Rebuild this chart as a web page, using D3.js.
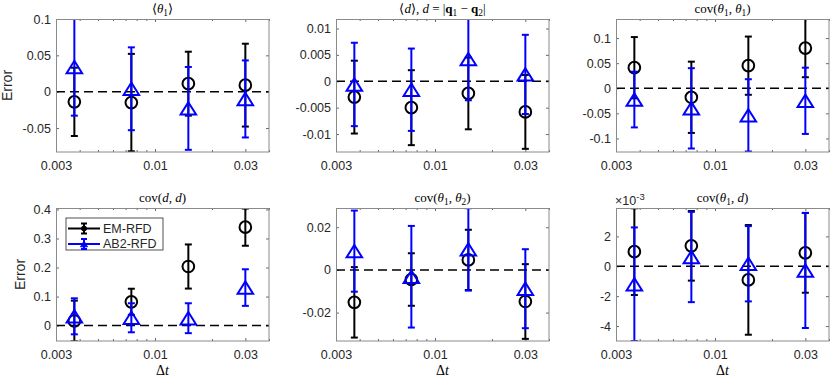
<!DOCTYPE html>
<html>
<head>
<meta charset="utf-8">
<script src="https://cdn.jsdelivr.net/npm/d3@7/dist/d3.min.js"></script>
<style>
  body { margin: 0; background: #fff; }
  svg { display: block; }
</style>
</head>
<body>
<svg></svg>
<script>
// time steps (shared x values) and x ticks
const dt = [0.00375, 0.0075, 0.015, 0.03]
const xTicks = [0.003, 0.01, 0.03]
const xMinor = [0.004, 0.005, 0.006, 0.007, 0.008, 0.009, 0.02, 0.04]

// <theta_1>
const thetaEM = [-0.014, -0.015, 0.011, 0.009]
const thetaEMErr = [0.047, 0.067, 0.044, 0.057]
const thetaAB2 = [0.034, 0.004, -0.023, -0.01]
const thetaAB2Err = [0.067, 0.057, 0.057, 0.053]
const thetaTicks = [-0.05, 0, 0.05, 0.1]

// <d>, d = |q1 - q2|
const dEM = [-0.003, -0.005, -0.0023, -0.0058]
const dEMErr = [0.0069, 0.0071, 0.0068, 0.007]
const dAB2 = [-0.0006, -0.0016, 0.0042, 0.0013]
const dAB2Err = [0.0079, 0.0078, 0.0078, 0.0075]
const dTicks = [-0.01, -0.005, 0, 0.005, 0.01]

// cov(theta1, theta1)
const c11EM = [0.041, -0.018, 0.045, 0.08]
const c11EMErr = [0.061, 0.071, 0.058, 0.058]
const c11AB2 = [-0.0225, -0.04, -0.054, -0.025]
const c11AB2Err = [0.0555, 0.08, 0.072, 0.066]
const c11Ticks = [-0.1, -0.05, 0, 0.05, 0.1]

// cov(d, d)
const cddEM = [0.016, 0.082, 0.2035, 0.339]
const cddEMErr = [0.07, 0.045, 0.076, 0.064]
const cddAB2 = [0.032, 0.027, 0.0255, 0.131]
const cddAB2Err = [0.062, 0.05, 0.0515, 0.063]
const cddTicks = [0, 0.1, 0.2, 0.3, 0.4]

// cov(theta1, theta2)
const c12EM = [-0.0152, -0.0045, 0.0047, -0.0148]
const c12EMErr = [0.0165, 0.0123, 0.0141, 0.0175]
const c12AB2 = [0.0088, -0.0032, 0.0096, -0.0088]
const c12AB2Err = [0.019, 0.0238, 0.0193, 0.0185]
const c12Ticks = [-0.02, 0, 0.02]

// cov(theta1, d)
const c1dEM = [0.98e-3, 1.37e-3, -0.91e-3, 0.9e-3]
const c1dEMErr = [2.9e-3, 2.33e-3, 3.67e-3, 2.67e-3]
const c1dAB2 = [-1.2e-3, 0.62e-3, 0.17e-3, -0.28e-3]
const c1dAB2Err = [3.8e-3, 3.02e-3, 2.52e-3, 3.85e-3]
const c1dTicks = [-4e-3, -2e-3, 0, 2e-3]

const seriesNames = ['EM-RFD', 'AB2-RFD']

// canvas and subplot geometry
const width = 830
const height = 377
const cols = [56, 336, 616]
const rows = [19, 208]
const pw = 213
const ph = 133

const black = '#000000'
const blue = '#0000ff'
const textColor = '#262626'
const sans = 'Liberation Sans, Arial, sans-serif'
const serif = 'Liberation Serif, Times New Roman, serif'
const tickFont = 12.5

// title pieces: [text, style]  i = italic, b = bold, sub = subscript
const panels = [
  { col: 0, row: 0, em: thetaEM, emErr: thetaEMErr, ab: thetaAB2, abErr: thetaAB2Err, ticks: thetaTicks, domain: [-0.083, 0.1], ylabel: 12,
    title: [['⟨', ''], ['θ', 'i'], ['1', 'sub'], ['⟩', '']] },
  { col: 1, row: 0, em: dEM, emErr: dEMErr, ab: dAB2, abErr: dAB2Err, ticks: dTicks, domain: [-0.0134, 0.0118],
    title: [['⟨', ''], ['d', 'i'], ['⟩, ', ''], ['d', 'i'], [' = |', ''], ['q', 'b'], ['1', 'sub'], [' − ', ''], ['q', 'b'], ['2', 'sub'], ['|', '']] },
  { col: 2, row: 0, em: c11EM, emErr: c11EMErr, ab: c11AB2, abErr: c11AB2Err, ticks: c11Ticks, domain: [-0.127, 0.138],
    title: [['cov(', ''], ['θ', 'i'], ['1', 'sub'], [', ', ''], ['θ', 'i'], ['1', 'sub'], [')', '']] },
  { col: 0, row: 1, em: cddEM, emErr: cddEMErr, ab: cddAB2, abErr: cddAB2Err, ticks: cddTicks, domain: [-0.053, 0.405], ylabel: 25, legend: true,
    title: [['cov(', ''], ['d', 'i'], [', ', ''], ['d', 'i'], [')', '']] },
  { col: 1, row: 1, em: c12EM, emErr: c12EMErr, ab: c12AB2, abErr: c12AB2Err, ticks: c12Ticks, domain: [-0.0333, 0.029],
    title: [['cov(', ''], ['θ', 'i'], ['1', 'sub'], [', ', ''], ['θ', 'i'], ['2', 'sub'], [')', '']] },
  { col: 2, row: 1, em: c1dEM, emErr: c1dEMErr, ab: c1dAB2, abErr: c1dAB2Err, ticks: c1dTicks, domain: [-5e-3, 3.9e-3], exp: -3,
    title: [['cov(', ''], ['θ', 'i'], ['1', 'sub'], [', ', ''], ['d', 'i'], [')', '']] }
]

const svg = d3.select('svg')
  .attr('width', width)
  .attr('height', height)

function fmt (v, exp) {
  if (exp) v = v / Math.pow(10, exp)
  return String(+v.toFixed(6))
}

function writeRich (sel, pieces, size) {
  let shifted = false
  pieces.forEach(([t, st]) => {
    const ts = sel.append('tspan').text(t)
    if (st === 'i') ts.attr('font-style', 'italic')
    if (st === 'b') ts.attr('font-weight', 'bold')
    if (st === 'sub') {
      ts.attr('font-size', size * 0.72).attr('dy', 3)
      shifted = true
    } else if (shifted) {
      ts.attr('dy', -3)
      shifted = false
    }
  })
}

function triangle (s) {
  const w = s
  const h = s * 0.8
  return 'M0,' + (-h / 2) + 'L' + (w / 2) + ',' + (h / 2) + 'L' + (-w / 2) + ',' + (h / 2) + 'Z'
}

function drawSeries (g, xScale, yScale, vals, errs, color, marker) {
  const cap = 3.5
  const s = g.append('g')
  vals.forEach((v, i) => {
    const x = xScale(dt[i])
    const y0 = yScale(v - errs[i])
    const y1 = yScale(v + errs[i])
    s.append('line').attr('x1', x).attr('x2', x).attr('y1', y0).attr('y2', y1)
      .attr('stroke', color).attr('stroke-width', 2)
    ;[y0, y1].forEach(yy => {
      s.append('line').attr('x1', x - cap).attr('x2', x + cap).attr('y1', yy).attr('y2', yy)
        .attr('stroke', color).attr('stroke-width', 2)
    })
  })
  s.selectAll('.mk')
    .data(vals)
    .enter()
    .append('path')
    .attr('d', marker === 'o' ? d3.symbol(d3.symbolCircle, Math.PI * 34) : triangle(15.5))
    .attr('transform', (d, i) => 'translate(' + xScale(dt[i]) + ',' + yScale(d) + ')')
    .attr('fill', 'none')
    .attr('stroke', color)
    .attr('stroke-width', 2)
}

function styleAxis (g) {
  g.select('.domain').remove()
  g.selectAll('line').attr('stroke', '#262626').attr('stroke-width', 0.7)
  g.selectAll('text').attr('fill', textColor).attr('font-family', sans).attr('font-size', tickFont)
}

function drawPanel (p, idx) {
  const left = cols[p.col]
  const top = rows[p.row]
  const g = svg.append('g').attr('transform', 'translate(' + left + ',' + top + ')')

  const xScale = d3.scaleLog().domain([0.003, 0.04]).range([0, pw])
  const yScale = d3.scaleLinear().domain(p.domain).range([ph, 0])

  g.append('rect').attr('width', pw).attr('height', ph).attr('fill', '#fff')

  // axes with inward ticks, mirrored on top and right
  g.append('g').attr('transform', 'translate(0,' + ph + ')')
    .call(d3.axisBottom(xScale).tickValues(xTicks).tickSize(-3).tickPadding(9).tickFormat(d => fmt(d)))
    .call(styleAxis)
  g.append('g').attr('transform', 'translate(0,' + ph + ')')
    .call(d3.axisBottom(xScale).tickValues(xMinor).tickSize(-2).tickFormat(''))
    .call(styleAxis)
  g.append('g')
    .call(d3.axisTop(xScale).tickValues(xTicks).tickSize(-3).tickFormat(''))
    .call(styleAxis)
  g.append('g')
    .call(d3.axisTop(xScale).tickValues(xMinor).tickSize(-2).tickFormat(''))
    .call(styleAxis)
  g.append('g')
    .call(d3.axisLeft(yScale).tickValues(p.ticks).tickSize(-3).tickPadding(5).tickFormat(d => fmt(d, p.exp)))
    .call(styleAxis)
  g.append('g').attr('transform', 'translate(' + pw + ',0)')
    .call(d3.axisRight(yScale).tickValues(p.ticks).tickSize(-3).tickFormat(''))
    .call(styleAxis)

  // clipped data area
  g.append('clipPath').attr('id', 'clip' + idx)
    .append('rect').attr('width', pw).attr('height', ph)
  const plot = g.append('g').attr('clip-path', 'url(#clip' + idx + ')')

  plot.append('line')
    .attr('x1', 0).attr('x2', pw)
    .attr('y1', yScale(0)).attr('y2', yScale(0))
    .attr('stroke', black).attr('stroke-width', 1.5).attr('stroke-dasharray', '9,5')

  drawSeries(plot, xScale, yScale, p.em, p.emErr, black, 'o')
  drawSeries(plot, xScale, yScale, p.ab, p.abErr, blue, '^')

  // box
  g.append('rect').attr('x', 0.5).attr('y', 0.5).attr('width', pw - 0.5).attr('height', ph - 0.5)
    .attr('fill', 'none').attr('stroke', '#8a8a8a').attr('stroke-width', 1)

  // title
  const t = g.append('text')
    .attr('x', pw / 2).attr('y', -6)
    .attr('text-anchor', 'middle')
    .attr('font-family', serif).attr('font-size', 13).attr('fill', '#000')
  writeRich(t, p.title, 13)

  if (p.ylabel) {
    g.append('text')
      .attr('transform', 'translate(' + (p.ylabel - left) + ',' + (ph / 2) + ') rotate(-90)')
      .attr('text-anchor', 'middle')
      .attr('font-family', sans).attr('font-size', 14).attr('fill', textColor)
      .text('Error')
  }

  if (p.row === 1) {
    const xl = g.append('text')
      .attr('x', pw / 2).attr('y', ph + 34)
      .attr('text-anchor', 'middle')
      .attr('font-family', serif).attr('font-size', 14).attr('fill', '#000')
    xl.append('tspan').text('Δ')
    xl.append('tspan').attr('font-style', 'italic').text('t')
  }

  if (p.exp) {
    const e = g.append('text')
      .attr('x', -1).attr('y', -3)
      .attr('font-family', sans).attr('font-size', 12.5).attr('fill', textColor)
    e.append('tspan').text('×10')
    e.append('tspan').attr('font-size', 9.5).attr('dy', -5).text(String(p.exp))
  }

  if (p.legend) drawLegend(g)
}

function drawLegend (g) {
  const lg = g.append('g').attr('transform', 'translate(10,10)')
  lg.append('rect').attr('x', 0).attr('y', 0).attr('width', 97).attr('height', 32)
    .attr('fill', '#fff').attr('stroke', '#262626').attr('stroke-width', 0.8)
  const colors = [black, blue]
  seriesNames.forEach((name, i) => {
    const y = 10.5 + i * 15.5
    const c = colors[i]
    lg.append('line').attr('x1', 2).attr('x2', 34).attr('y1', y).attr('y2', y)
      .attr('stroke', c).attr('stroke-width', 2)
    lg.append('line').attr('x1', 18).attr('x2', 18).attr('y1', y - 5).attr('y2', y + 5)
      .attr('stroke', c).attr('stroke-width', 2)
    ;[y - 5, y + 5].forEach(yy => {
      lg.append('line').attr('x1', 15).attr('x2', 21).attr('y1', yy).attr('y2', yy)
        .attr('stroke', c).attr('stroke-width', 2)
    })
    lg.append('path')
      .attr('d', i === 0 ? d3.symbol(d3.symbolCircle, 20) : triangle(7))
      .attr('transform', 'translate(18,' + y + ')')
      .attr('fill', c).attr('stroke', c).attr('stroke-width', 1)
    lg.append('text').attr('x', 37).attr('y', y).attr('dy', '0.35em')
      .attr('font-family', sans).attr('font-size', 12.5).attr('fill', textColor)
      .text(name)
  })
}

panels.forEach(drawPanel)
</script>
</body>
</html>
